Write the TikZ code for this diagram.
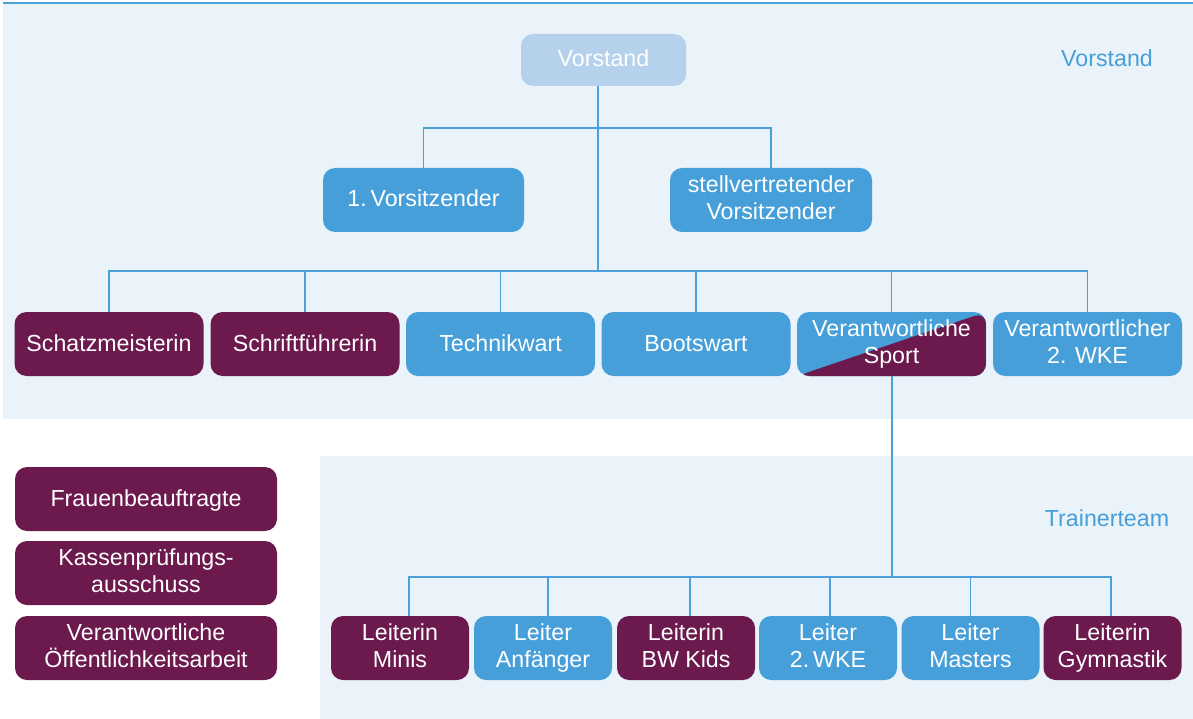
\documentclass[tikz,border=0pt]{standalone}
\usepackage{fontspec}
\setmainfont{Liberation Sans}
\definecolor{bg}{HTML}{EAF2FA}
\definecolor{bl}{HTML}{479FD9}
\definecolor{pu}{HTML}{6C194E}
\definecolor{lb}{HTML}{B5D1EC}
\definecolor{ln}{HTML}{4BA0DA}
\newcommand{\bxstrut}{\vrule height 19pt depth 5pt width 0pt\relax}
\tikzset{
  box/.style={rectangle, rounded corners=12pt, inner sep=0pt, text=white, align=center,
    font=\fontsize{23.2}{27.5}\selectfont, minimum height=64pt,
    execute at begin node=\bxstrut, execute at end node=\bxstrut},
  bbox/.style={box, fill=bl},
  pbox/.style={box, fill=pu},
  conn/.style={draw=ln, line width=1.6pt},
  lbl/.style={text=bl, font=\fontsize{23.2}{27.5}\selectfont, inner sep=0pt}
}
\begin{document}
\begin{tikzpicture}[x=1pt,y=-1pt]
\useasboundingbox (0,0) rectangle (1193,719);
\fill[white] (0,0) rectangle (1193,719);
% panels
\fill[bg] (3,4) rectangle (1193,419);
\fill[bg] (320,456) rectangle (1193,719);
\draw[ln, line width=2pt] (3,3.5) -- (1193,3.5);
% labels
\node[lbl] (lv) at (1107,58) {Vorstand};
\node[lbl] (lt) at (1107,518) {Trainerteam};
% top
\node[box, fill=lb, minimum width=165pt, minimum height=52pt] (vorstand) at (603.5,60) {Vorstand};
\node[bbox, minimum width=201pt] (v1) at (423.5,200) {1.\,Vorsitzender};
\node[bbox, minimum width=202pt] (v2) at (771,200) {stellvertretender\\Vorsitzender};
% row 3
\node[pbox, minimum width=189pt] (schatz) at (109,344) {Schatzmeisterin};
\node[pbox, minimum width=189pt] (schrift) at (305,344) {Schriftführerin};
\node[bbox, minimum width=189pt] (technik) at (500.5,344) {Technikwart};
\node[bbox, minimum width=189pt] (boot) at (696,344) {Bootswart};
\node[box, fill=bl, minimum width=189pt,
  path picture={\fill[pu] (path picture bounding box.south west) -- (path picture bounding box.south east) -- (path picture bounding box.north east) -- cycle;}]
  (sport) at (891.5,344) {Verantwortliche\\Sport};
\node[bbox, minimum width=189pt] (wke) at (1087.5,344) {Verantwortlicher\\2. WKE};
% left boxes
\node[pbox, minimum width=262pt] (frau) at (146,499) {Frauenbeauftragte};
\node[pbox, minimum width=262pt] (kasse) at (146,573) {Kassenprüfungs-\\ausschuss};
\node[pbox, minimum width=262pt] (oeff) at (146,648) {Verantwortliche\\Öffentlichkeitsarbeit};
% bottom row
\node[pbox, minimum width=138pt] (minis) at (400,648) {Leiterin\\Minis};
\node[bbox, minimum width=138pt] (anf) at (543,648) {Leiter\\Anfänger};
\node[pbox, minimum width=138pt] (kids) at (686,648) {Leiterin\\BW Kids};
\node[bbox, minimum width=138pt] (lwke) at (828,648) {Leiter\\2.\,WKE};
\node[bbox, minimum width=138pt] (masters) at (970.5,648) {Leiter\\Masters};
\node[pbox, minimum width=138pt] (gym) at (1112.5,648) {Leiterin\\Gymnastik};
% junctions
\coordinate (j1) at (598,128);
\coordinate (j2) at (598,271);
\coordinate (j3) at (892,577);
% connectors
\draw[conn] (vorstand.south -| j1) -- (j2);
\draw[conn] (v1.north) |- (j1) -| (v2.north);
\draw[conn] (schatz.north) |- (j2) -| (wke.north);
\draw[conn] (schrift.north) -- (schrift.north |- j2);
\draw[conn] (technik.north) -- (technik.north |- j2);
\draw[conn] (boot.north) -- (boot.north |- j2);
\draw[conn] (sport.north) -- (sport.north |- j2);
\draw[conn] (sport.south -| j3) -- (j3);
\draw[conn] ([xshift=9pt]minis.north) |- (j3) -| ([xshift=-1.5pt]gym.north);
\draw[conn] ([xshift=5pt]anf.north) -- ([xshift=5pt]anf.north |- j3);
\draw[conn] ([xshift=4pt]kids.north) -- ([xshift=4pt]kids.north |- j3);
\draw[conn] ([xshift=2pt]lwke.north) -- ([xshift=2pt]lwke.north |- j3);
\draw[conn] (masters.north) -- (masters.north |- j3);
\end{tikzpicture}
\end{document}
